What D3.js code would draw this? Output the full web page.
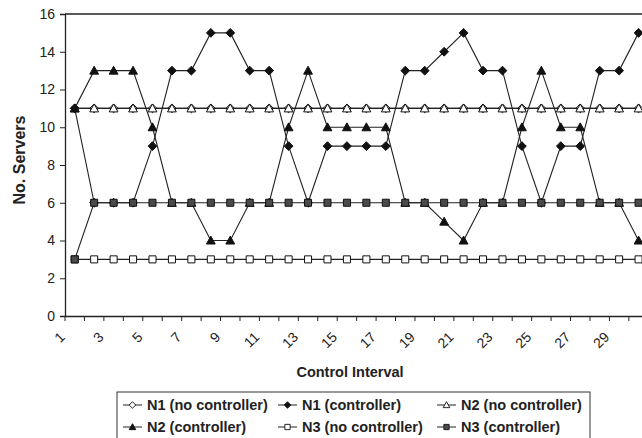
<!DOCTYPE html>
<html><head><meta charset="utf-8">
<script src="https://cdn.jsdelivr.net/npm/d3@7"></script>
<style>
html,body{margin:0;padding:0;background:#fff;overflow:hidden}
text{font-family:"Liberation Sans",Arial,Helvetica,sans-serif;fill:#222}
</style></head>
<body>
<svg id="chart" width="642" height="438"></svg>
<script>
const categories = [1,2,3,4,5,6,7,8,9,10,11,12,13,14,15,16,17,18,19,20,21,22,23,24,25,26,27,28,29,30];
const tickLabels = ["1","3","5","7","9","11","13","15","17","19","21","23","25","27","29"];
const yTicks = [0,2,4,6,8,10,12,14,16];
const n1NoCtrl = [11,11,11,11,11,11,11,11,11,11,11,11,11,11,11,11,11,11,11,11,11,11,11,11,11,11,11,11,11,11];
const n1Ctrl   = [11,6,6,6,9,13,13,15,15,13,13,9,6,9,9,9,9,13,13,14,15,13,13,9,6,9,9,13,13,15];
const n2NoCtrl = [11,11,11,11,11,11,11,11,11,11,11,11,11,11,11,11,11,11,11,11,11,11,11,11,11,11,11,11,11,11];
const n2Ctrl   = [11,13,13,13,10,6,6,4,4,6,6,10,13,10,10,10,10,6,6,5,4,6,6,10,13,10,10,6,6,4];
const n3NoCtrl = [3,3,3,3,3,3,3,3,3,3,3,3,3,3,3,3,3,3,3,3,3,3,3,3,3,3,3,3,3,3];
const n3Ctrl   = [3,6,6,6,6,6,6,6,6,6,6,6,6,6,6,6,6,6,6,6,6,6,6,6,6,6,6,6,6,6];
const seriesNames = ["N1 (no controller)","N1 (controller)","N2 (no controller)","N2 (controller)","N3 (no controller)","N3 (controller)"];

const series = [
  {name:seriesNames[0], values:n1NoCtrl, shape:"diamond", fill:"#fff"},
  {name:seriesNames[1], values:n1Ctrl,   shape:"diamond", fill:"#111"},
  {name:seriesNames[2], values:n2NoCtrl, shape:"triangle", fill:"#fff"},
  {name:seriesNames[3], values:n2Ctrl,   shape:"triangle", fill:"#111"},
  {name:seriesNames[4], values:n3NoCtrl, shape:"square", fill:"#fff"},
  {name:seriesNames[5], values:n3Ctrl,   shape:"square", fill:"#4a4a4a"}
];

const svg = d3.select("#chart");
const pLeft = 65, pRight = 648.3, pTop = 14, pBottom = 316;
const x = d3.scaleBand().domain(categories).range([pLeft, pRight]).padding(0);
const y = d3.scaleLinear().domain([0,16]).range([pBottom, pTop]);

function shapePath(shape, s){
  if(shape==="diamond") return `M0,${-s}L${s},0L0,${s}L${-s},0Z`;
  if(shape==="triangle") return `M0,${-s}L${s},${s*0.8}L${-s},${s*0.8}Z`;
  return `M${-s*0.8},${-s*0.8}H${s*0.8}V${s*0.8}H${-s*0.8}Z`;
}

// plot frame top line
svg.append("line").attr("x1",pLeft).attr("x2",pRight).attr("y1",pTop).attr("y2",pTop)
  .attr("stroke","#222").attr("stroke-width",1.3);

// y axis
const yAxis = d3.axisLeft(y).tickValues(yTicks).tickSize(5).tickPadding(5);
const gy = svg.append("g").attr("transform",`translate(${pLeft},0)`).call(yAxis);
gy.select(".domain").attr("stroke","#222").attr("stroke-width",1.3);
gy.selectAll(".tick line").attr("stroke","#222");
gy.selectAll("text").style("font-size","14px").style("font-family","'Liberation Sans',Arial,sans-serif").attr("fill","#222");

// x axis: ticks between categories
const xAxis = d3.axisBottom(x).tickValues([]).tickSizeOuter(0);
const gx = svg.append("g").attr("transform",`translate(0,${pBottom})`).call(xAxis);
gx.select(".domain").attr("stroke","#222").attr("stroke-width",1.3);
const bounds = categories.map(c => x(c));
gx.selectAll("line.tk").data(bounds).enter().append("line").attr("class","tk")
  .attr("x1",d=>d).attr("x2",d=>d).attr("y1",0).attr("y2",5).attr("stroke","#222");
gx.selectAll("text.lbl").data(tickLabels).enter().append("text").attr("class","lbl")
  .attr("transform",d=>`translate(${x(+d)+x.bandwidth()/2-9},${22}) rotate(-45)`)
  .attr("text-anchor","end")
  .style("font-size","14px")
  .text(d=>d);

// axis titles
svg.append("text").attr("x",350).attr("y",377).attr("text-anchor","middle")
  .style("font-size","14.5px").style("font-weight","bold").text("Control Interval");
svg.append("text").attr("transform",`translate(25,160) rotate(-90)`).attr("text-anchor","middle")
  .style("font-size","16px").style("font-weight","bold").text("No. Servers");

// lines and markers
const line = d3.line().x((d,i)=>x(categories[i])+x.bandwidth()/2).y(d=>y(d));
series.forEach(s=>{
  const g = svg.append("g");
  g.append("path").attr("d",line(s.values)).attr("fill","none").attr("stroke","#222").attr("stroke-width",1.1);
  g.selectAll("path.m").data(s.values).enter().append("path").attr("class","m")
    .attr("transform",(d,i)=>`translate(${x(categories[i])+x.bandwidth()/2},${y(d)})`)
    .attr("d",shapePath(s.shape,4.4))
    .attr("fill",s.fill).attr("stroke","#111").attr("stroke-width",1);
});

// legend
const lg = svg.append("g");
lg.append("rect").attr("x",117).attr("y",392).attr("width",473).attr("height",50)
  .attr("fill","#fff").attr("stroke","#333").attr("stroke-width",1);
const colX = [123, 278, 437];
const rowY = [405, 427];
series.forEach((s,i)=>{
  const cx = colX[i%3], cy = rowY[Math.floor(i/3)];
  lg.append("line").attr("x1",cx).attr("x2",cx+19).attr("y1",cy).attr("y2",cy).attr("stroke","#222");
  lg.append("path").attr("transform",`translate(${cx+9.5},${cy})`).attr("d",shapePath(s.shape,3.3))
    .attr("fill",s.fill).attr("stroke","#111").attr("stroke-width",0.9);
  lg.append("text").attr("x",cx+24).attr("y",cy+5).style("font-size","14.5px").style("font-weight","bold").text(s.name);
});
</script>
</body></html>
